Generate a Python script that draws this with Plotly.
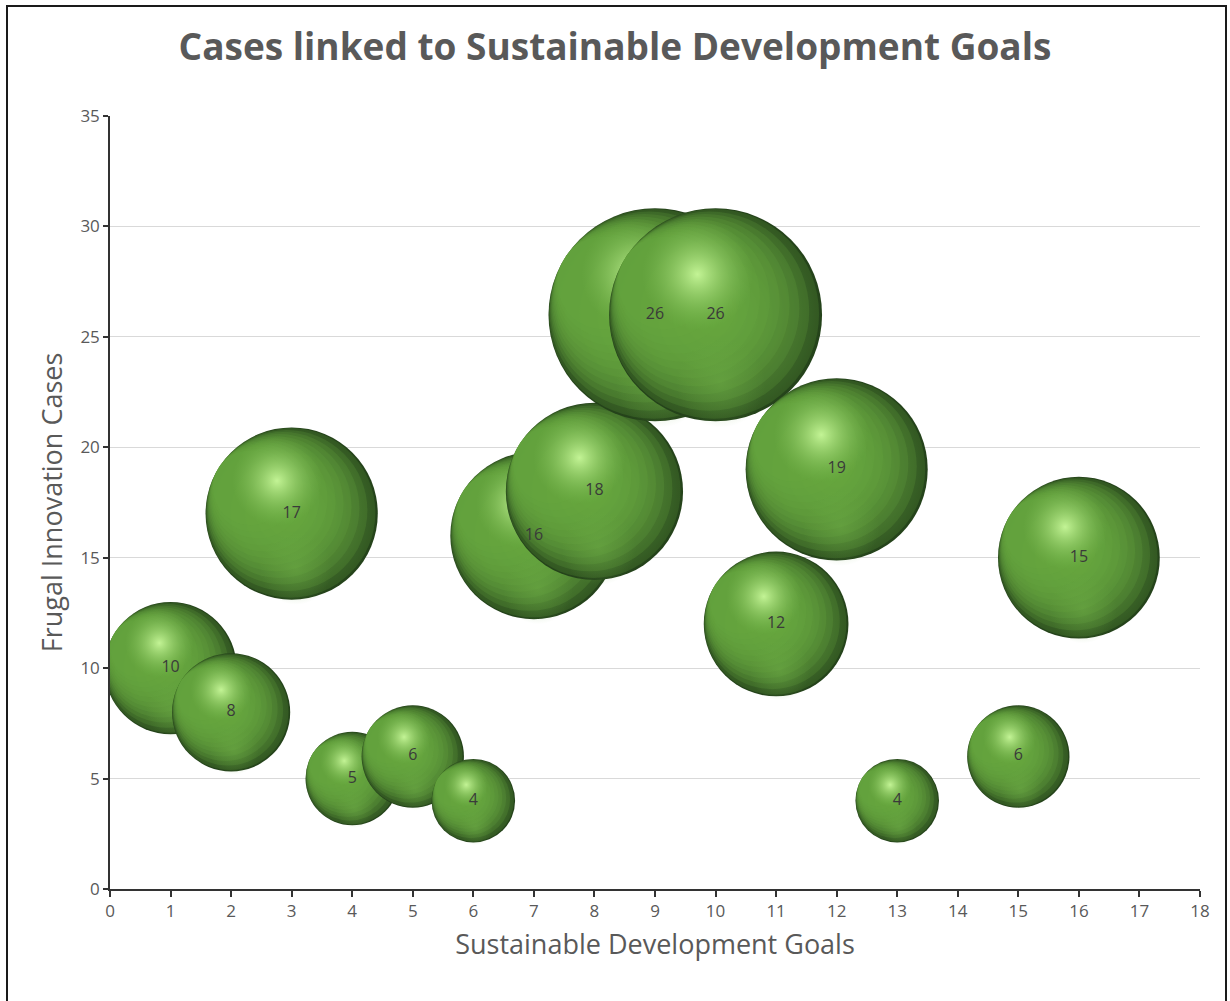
import math
import plotly.graph_objects as go

# Frugal innovation cases per Sustainable Development Goal
sdg_goals = [1, 2, 3, 4, 5, 6, 7, 8, 9, 10, 11, 12, 13, 15, 16]
case_counts = [10, 8, 17, 5, 6, 4, 16, 18, 26, 26, 12, 19, 4, 6, 15]
x_ticks = list(range(0, 19))
y_ticks = [0, 5, 10, 15, 20, 25, 30, 35]

# Canvas and plot-area geometry (pixels)
W, H = 1230, 1001
ML, MR, MT, MB = 110, 30, 116, 112
PW, PH = W - ML - MR, H - MT - MB
X_RANGE = (0, 18)
Y_RANGE = (0, 35)
px_x = (X_RANGE[1] - X_RANGE[0]) / PW   # data units per pixel
px_y = (Y_RANGE[1] - Y_RANGE[0]) / PH

D_MAX = 213  # diameter of the largest bubble, px
vmax = max(case_counts)
sizeref = 2 * vmax / D_MAX ** 2

FONT = "Open Sans"
GREY = "#595959"

# direction (in radii) toward the lit side of each sphere
LIGHT = (-0.85, 0.53)

fig = go.Figure()


def disc(x, v, r, dx, dy, scale, edge, centre=None):
    """Overlay a disc offset (dx, dy) radii from the bubble centre."""
    marker = dict(size=[2 * r * scale], opacity=1, color=edge, line=dict(width=0))
    if centre is not None:
        marker["gradient"] = dict(type="radial", color=centre)
    fig.add_trace(go.Scatter(
        x=[x + dx * r * px_x], y=[v + dy * r * px_y],
        mode="markers", hoverinfo="skip", showlegend=False, marker=marker,
    ))


for x, v in zip(sdg_goals, case_counts):
    d = D_MAX * math.sqrt(v / vmax)
    r = d / 2
    # sphere body: green centre fading to a dark rim
    fig.add_trace(go.Scatter(
        x=[x], y=[v], mode="markers", hoverinfo="skip", showlegend=False,
        marker=dict(size=[v], sizemode="area", sizeref=sizeref, opacity=1,
                    color="#24421a",
                    gradient=dict(type="radial", color="#5f9a3c"),
                    line=dict(width=0)),
    ))
    # translucent discs touching the lit edge: they build up the body tone
    # and leave a soft shadow crescent on the lower right
    for k in range(12):
        s = 0.985 - 0.05 * k
        off = 1 - s
        disc(x, v, r, LIGHT[0] * off, LIGHT[1] * off, s, "rgba(106,168,64,0.2)")
    # soft reflection along the bottom
    disc(x, v, r, 0.05, -0.64, 0.42, "rgba(108,170,68,0)", "rgba(112,176,72,0.45)")
    # specular highlight
    disc(x, v, r, -0.17, 0.38, 0.52, "rgba(128,190,86,0)", "rgba(200,248,154,0.95)")

# value labels drawn above every bubble
fig.add_trace(go.Scatter(
    x=sdg_goals, y=case_counts, mode="text",
    text=[str(v) for v in case_counts],
    textposition="middle center",
    textfont=dict(family=FONT, size=16, color="#3a3a3a"),
    hoverinfo="skip", showlegend=False,
))

# outer chart border
fig.add_shape(
    type="rect", xref="paper", yref="paper",
    x0=(7 - ML) / PW, x1=(1226 - ML) / PW,
    y0=(H - MT - 1004) / PH, y1=(H - MB - 6) / PH,
    line=dict(color="#1a1a1a", width=2), fillcolor="rgba(0,0,0,0)", layer="below",
)

fig.update_layout(
    width=W, height=H,
    margin=dict(l=ML, r=MR, t=MT, b=MB),
    paper_bgcolor="white", plot_bgcolor="white",
    title=dict(text="<b>Cases linked to Sustainable Development Goals</b>",
               x=0.5, xref="container", xanchor="center",
               y=1 - 47 / H, yanchor="middle",
               font=dict(family=FONT, size=37, color=GREY)),
    xaxis=dict(
        range=list(X_RANGE), tickvals=x_ticks, ticktext=[str(t) for t in x_ticks],
        showgrid=False, zeroline=False,
        showline=True, linecolor="#333333", linewidth=1.5,
        ticks="outside", ticklen=6, tickcolor="#333333", tickwidth=1.5,
        tickfont=dict(family=FONT, size=17, color=GREY),
        title=dict(text="Sustainable Development Goals", standoff=14,
                   font=dict(family=FONT, size=27, color=GREY)),
    ),
    yaxis=dict(
        range=list(Y_RANGE), tickvals=y_ticks, ticktext=[str(t) for t in y_ticks],
        showgrid=True, gridcolor="#d9d9d9", gridwidth=1, zeroline=False,
        showline=True, linecolor="#333333", linewidth=1.5,
        ticks="outside", ticklen=5, tickcolor="#333333", tickwidth=1.5,
        tickfont=dict(family=FONT, size=17, color=GREY),
        title=dict(text="Frugal Innovation Cases", standoff=10,
                   font=dict(family=FONT, size=27, color=GREY)),
    ),
)

fig.write_html("out.html")
